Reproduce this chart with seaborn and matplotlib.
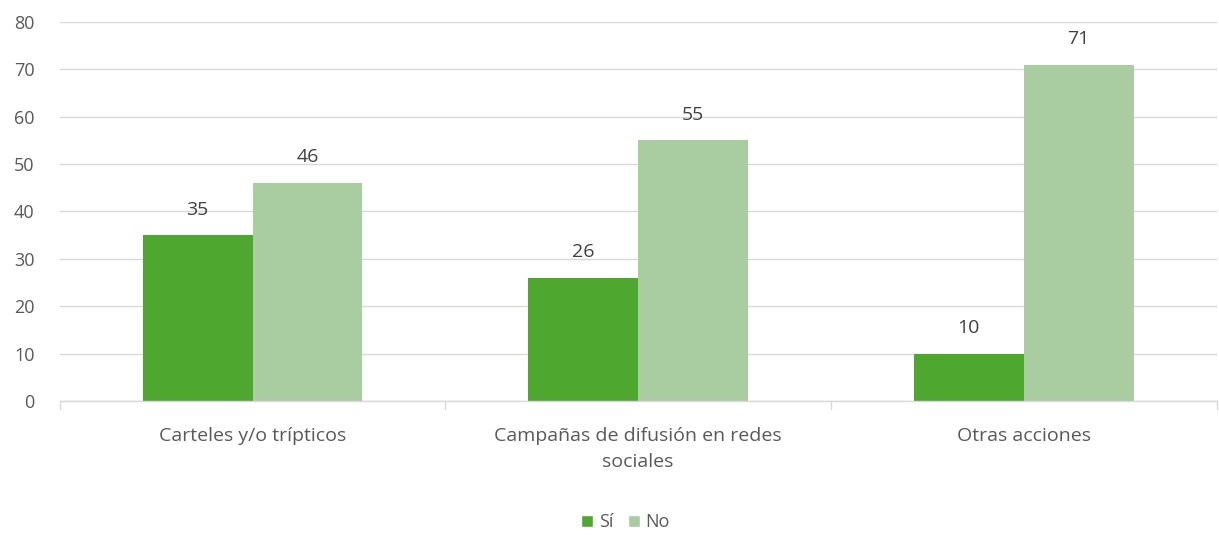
import matplotlib
matplotlib.use("Agg")
import matplotlib.pyplot as plt
import seaborn as sns
import pandas as pd
from matplotlib.patches import Patch

categories = ["Carteles y/o trípticos", "Campañas de difusión en redes\nsociales", "Otras acciones"]
series_names = ["Sí", "No"]
si_values = [35, 26, 10]
no_values = [46, 55, 71]
yticks = [0, 10, 20, 30, 40, 50, 60, 70, 80]

colors = {"Sí": "#4EA72E", "No": "#A9CCA0"}
text_color = "#595959"

df = pd.DataFrame({
    "categoria": categories * 2,
    "serie": ["Sí"] * 3 + ["No"] * 3,
    "valor": si_values + no_values,
})

sns.set_theme(style="white")
plt.rcParams["font.family"] = ["Open Sans", "DejaVu Sans"]

fig = plt.figure(figsize=(12.19, 5.35), dpi=100)
ax = fig.add_axes([0.049, 0.2505, 0.949, 0.7084])

sns.barplot(data=df, x="categoria", y="valor", hue="serie", order=categories,
            hue_order=series_names, palette=colors, width=0.57, saturation=1,
            ax=ax, legend=False, edgecolor="none")

ax.set_ylim(0, 80)
ax.set_xlim(-0.5, 2.5)
ax.set_yticks(yticks)
ax.set_yticklabels([str(t) for t in yticks])
ax.yaxis.grid(True, color="#D9D9D9", linewidth=1)
ax.set_axisbelow(True)
for s in ["top", "right", "left"]:
    ax.spines[s].set_visible(False)
ax.spines["bottom"].set_color("#D9D9D9")
ax.spines["bottom"].set_linewidth(1)
ax.set_xlabel("")
ax.set_ylabel("")
ax.tick_params(axis="y", length=0, labelsize=13, colors=text_color, pad=18)
ax.tick_params(axis="x", length=0, labelsize=14, colors=text_color, pad=19)
for lbl in ax.get_xticklabels():
    lbl.set_linespacing(1.55)

# boundary tick marks
for xb in [-0.5, 0.5, 1.5, 2.5]:
    ax.plot([xb, xb], [0, -1.6], color="#D9D9D9", lw=1, clip_on=False)

for cont in ax.containers:
    ax.bar_label(cont, padding=12, fontsize=14, color="#404040")

handles = [Patch(facecolor=colors[n], label=n) for n in series_names]
fig.legend(handles=handles, loc="center", bbox_to_anchor=(0.513, 0.024), ncol=2,
           frameon=False, fontsize=13, handlelength=0.7, handleheight=0.7,
           handletextpad=0.3, columnspacing=0.8, labelcolor=text_color)

fig.savefig("out.png", dpi=100)
